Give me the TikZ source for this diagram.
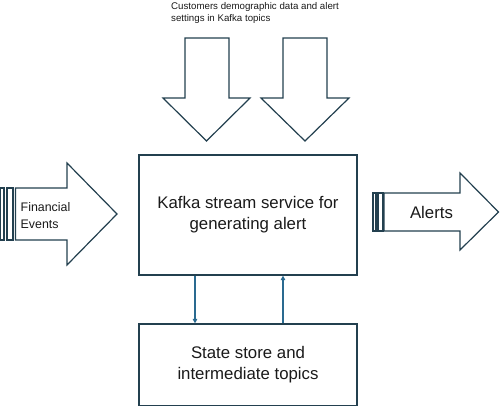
\documentclass[tikz,border=0pt]{standalone}
\usepackage{fontspec}
\setmainfont{Liberation Sans}
\usetikzlibrary{arrows.meta}
\definecolor{outl}{HTML}{23404F}
\definecolor{conn}{HTML}{2A6A90}
\definecolor{txt}{HTML}{1A1A1A}
\tikzset{
  shapeline/.style={draw=outl, line width=1.2pt, line join=miter, fill=white},
  boxnode/.style={draw=outl, line width=1.2pt, minimum width=218pt, inner sep=0pt, align=center, text=txt, font=\fontsize{16.8}{21}\selectfont},
  conline/.style={draw=conn, line width=1.1pt, -{Triangle[length=4.5pt,width=4.5pt]}},
  lbl/.style={text=txt, inner sep=0pt}
}
\begin{document}
\begin{tikzpicture}[x=1pt,y=-1pt]
\useasboundingbox (0,0) rectangle (500,407);
% main box
\node[boxnode, minimum height=120pt] (main) at (248,215) {Kafka stream service for\\generating alert};
\node[boxnode, minimum height=81.5pt] (store) at (248,364.75) {State store and\\intermediate topics};
% connectors
\coordinate (c1a) at (195,275);
\coordinate (c1b) at (195,324);
\coordinate (c2a) at (283,324);
\coordinate (c2b) at (283,275);
\draw[conline] (c1a |- main.south) -- (c1b |- store.north);
\draw[conline] (c2a |- store.north) -- (c2b |- main.south);
% top block arrows
\draw[shapeline] (185,38) -- (229,38) -- (229,98) -- (250,98) -- (206.5,141) -- (163,98) -- (185,98) -- cycle;
\draw[shapeline] (283,38) -- (327,38) -- (327,98) -- (349,98) -- (305,141) -- (261,98) -- (283,98) -- cycle;
\node[lbl, anchor=north west, align=left, font=\fontsize{9.7}{12}\selectfont] (toplbl) at (171,1.8) {Customers demographic data and alert\\settings in Kafka topics};
% left block arrow
\draw[shapeline] (0.6,188) rectangle (4,240);
\draw[shapeline] (7,188) rectangle (13,240);
\draw[shapeline] (15.5,188) -- (67,188) -- (67,163) -- (117,214) -- (67,265) -- (67,240) -- (15.5,240) -- cycle;
\node[lbl, anchor=west, align=left, font=\fontsize{12.4}{17}\selectfont] (fin) at (20.5,216) {Financial\\Events};
% right block arrow
\draw[shapeline] (373,193) rectangle (376,231);
\draw[shapeline] (378,193) rectangle (383,231);
\draw[shapeline] (384,193) -- (460,193) -- (460,173) -- (498.5,212) -- (460,250) -- (460,231) -- (384,231) -- cycle;
\node[lbl, font=\fontsize{16.8}{20}\selectfont] (alerts) at (431.5,212) {Alerts};
\end{tikzpicture}
\end{document}
